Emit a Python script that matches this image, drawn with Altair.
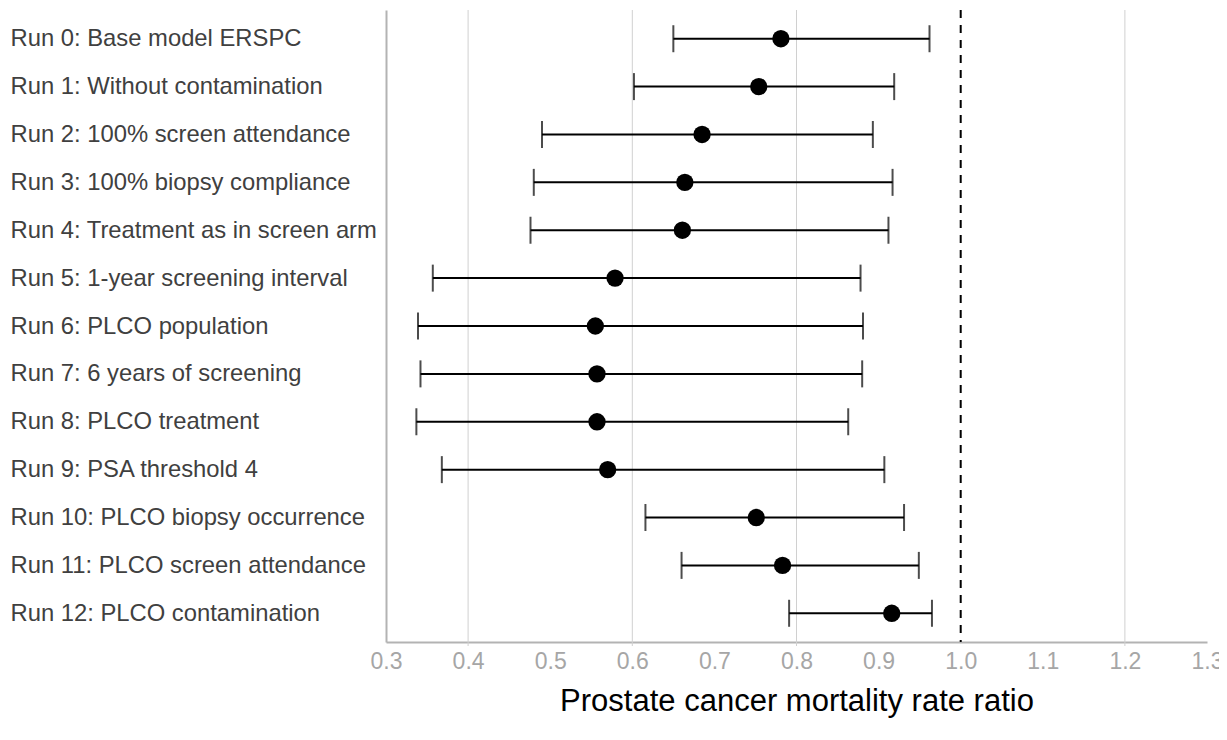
import altair as alt
import pandas as pd

labels = [
    "Run 0: Base model ERSPC",
    "Run 1: Without contamination",
    "Run 2: 100% screen attendance",
    "Run 3: 100% biopsy compliance",
    "Run 4: Treatment as in screen arm",
    "Run 5: 1-year screening interval",
    "Run 6: PLCO population",
    "Run 7: 6 years of screening",
    "Run 8: PLCO treatment",
    "Run 9: PSA threshold 4",
    "Run 10: PLCO biopsy occurrence",
    "Run 11: PLCO screen attendance",
    "Run 12: PLCO contamination",
]
estimate = [0.781, 0.754, 0.685, 0.664, 0.661, 0.579, 0.555, 0.557, 0.557, 0.570, 0.751, 0.783, 0.916]
lower = [0.650, 0.602, 0.490, 0.480, 0.476, 0.357, 0.339, 0.342, 0.337, 0.368, 0.616, 0.660, 0.791]
upper = [0.962, 0.919, 0.893, 0.917, 0.912, 0.878, 0.881, 0.880, 0.863, 0.907, 0.931, 0.949, 0.965]

x_ticks = [0.3, 0.4, 0.5, 0.6, 0.7, 0.8, 0.9, 1.0, 1.1, 1.2, 1.3]
grid_values = [0.4, 0.6, 0.8, 1.2]
reference_value = [1.0]

df = pd.DataFrame({"label": labels, "est": estimate, "lo": lower, "hi": upper})
grid_df = pd.DataFrame({"g": grid_values})
ref_df = pd.DataFrame({"r": reference_value})

W, H = 821, 632
FONT = "Liberation Sans, Arial, Helvetica, sans-serif"

xscale = alt.Scale(domain=[0.3, 1.3], nice=False, zero=False)
yscale = alt.Scale(type="point", padding=0.6)

xaxis = alt.Axis(
    values=x_ticks, format=".1f", grid=False, ticks=False,
    domainColor="#b3b3b3", domainWidth=2,
    labelColor="#a6a6a6", labelFontSize=23, labelFont=FONT, labelPadding=8,
    labelOverlap=False, labelFlush=False, labelBound=False,
    title="Prostate cancer mortality rate ratio", titleFont=FONT,
    titleFontSize=31, titleFontWeight="normal", titleColor="#000000",
    titlePadding=13,
)
yaxis = alt.Axis(
    title=None, ticks=False, grid=False, domainColor="#b3b3b3", domainWidth=2,
    labelAlign="left", labelBaseline="middle", labelPadding=376,
    labelFontSize=23.8, labelFont=FONT, labelColor="#404040", labelLimit=0,
)

grid = alt.Chart(grid_df).mark_rule(color="#d0d0d0", strokeWidth=1).encode(
    x=alt.X("g:Q", scale=xscale, axis=xaxis),
    y=alt.value(0), y2=alt.value(H + 4),
)

ref = alt.Chart(ref_df).mark_rule(color="#000000", strokeWidth=2, strokeDash=[8, 7]).encode(
    x=alt.X("r:Q", scale=xscale, axis=xaxis),
    y=alt.value(0), y2=alt.value(H),
)

base = alt.Chart(df)
ci = base.mark_rule(color="#000000", strokeWidth=2).encode(
    x=alt.X("lo:Q", scale=xscale, axis=xaxis),
    x2="hi:Q",
    y=alt.Y("label:N", sort=labels, scale=yscale, axis=yaxis),
)
cap_lo = base.mark_tick(color="#000000", thickness=2, size=27).encode(
    x=alt.X("lo:Q", scale=xscale, axis=xaxis),
    y=alt.Y("label:N", sort=labels, scale=yscale, axis=yaxis),
)
cap_hi = base.mark_tick(color="#000000", thickness=2, size=27).encode(
    x=alt.X("hi:Q", scale=xscale, axis=xaxis),
    y=alt.Y("label:N", sort=labels, scale=yscale, axis=yaxis),
)
dots = base.mark_circle(color="#000000", opacity=1, size=300).encode(
    x=alt.X("est:Q", scale=xscale, axis=xaxis),
    y=alt.Y("label:N", sort=labels, scale=yscale, axis=yaxis),
)

chart = alt.layer(grid, ref, ci, cap_lo, cap_hi, dots).properties(
    width=W, height=H,
    autosize=alt.AutoSizeParams(type="none"),
    padding={"left": 378, "top": 2, "right": 12, "bottom": 88},
).configure_view(stroke=None)

chart.save("out.html", embed_options={"renderer": "svg", "actions": False})
